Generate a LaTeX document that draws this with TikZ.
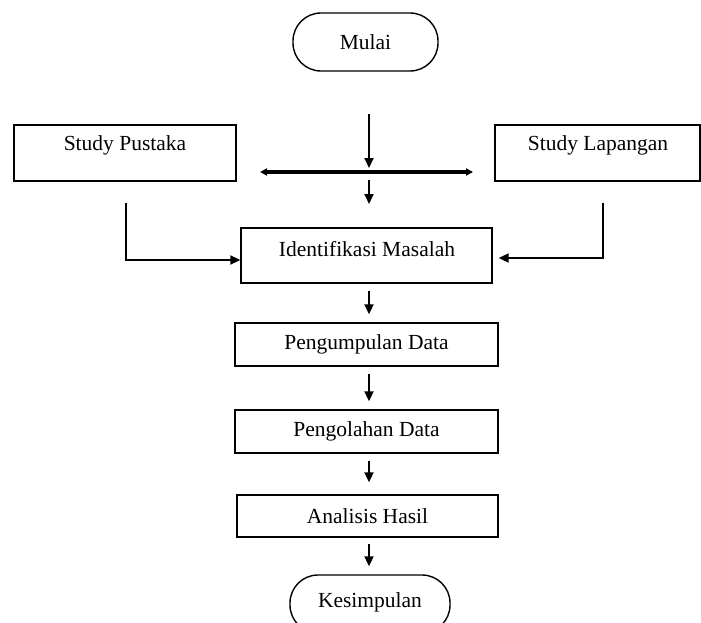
\documentclass[tikz,border=0pt]{standalone}
\usepackage{fontspec}
\setmainfont{Liberation Serif}
\usetikzlibrary{arrows.meta}
\begin{document}
\begin{tikzpicture}[x=1pt,y=-1pt,
  box/.style={draw, line width=1.4pt, rectangle, inner sep=0pt},
  term/.style={draw, line width=1.4pt, rectangle, rounded corners=28pt, inner sep=0pt},
  lbl/.style={font=\fontsize{21.5}{24}\selectfont, inner sep=0pt},
  arr/.style={line width=2pt, -{Triangle[length=10pt,width=9pt]}},
  darr/.style={line width=3.4pt, {Triangle[length=7pt,width=7pt]}-{Triangle[length=7pt,width=7pt]}}]
\clip (0,0) rectangle (701,623);
\fill[white] (0,0) rectangle (701,623);
% nodes
\node[term, minimum width=145pt, minimum height=58pt] (mulai) at (365.5,42) {};
\node[lbl] (tmulai) at (mulai.center) {Mulai};
\node[box, minimum width=222pt, minimum height=56pt] (sp) at (125,153) {};
\node[lbl] (tsp) at (125,145) {Study Pustaka};
\node[box, minimum width=205pt, minimum height=56pt] (sl) at (597.5,153) {};
\node[lbl] (tsl) at (598,145) {Study Lapangan};
\node[box, minimum width=251pt, minimum height=55pt] (id) at (366.5,255.5) {};
\node[lbl] (tid) at (367,249) {Identifikasi Masalah};
\node[box, minimum width=263pt, minimum height=43pt] (pg) at (366.5,344.5) {};
\node[lbl] (tpg) at (pg.center) {Pengumpulan Data};
\node[box, minimum width=263pt, minimum height=43pt] (po) at (366.5,431.5) {};
\node[lbl] (tpo) at (po.center) {Pengolahan Data};
\node[box, minimum width=261pt, minimum height=42pt] (ah) at (367.5,516) {};
\node[lbl] (tah) at (ah.center) {Analisis Hasil};
\node[term, minimum width=160pt, minimum height=58pt] (ks) at (370,604) {};
\node[lbl] (tks) at (370,602) {Kesimpulan};
% connectors
\coordinate (col) at (369,0);
\coordinate (a1s) at (369,114);
\coordinate (a1e) at (369,168);
\coordinate (hl) at (260,172);
\coordinate (hr) at (473,172);
\coordinate (a2s) at (369,180);
\coordinate (a2e) at (369,204);
\draw[arr] (a1s) -- (a1e);
\draw[darr] (hl) -- (hr);
\draw[arr] (a2s) -- (a2e);
\coordinate (ps) at (126,203);
\coordinate (ls) at (603,203);
\draw[arr] (ps) |- ([yshift=-4.5]id.west);
\draw[arr] (ls) |- ([xshift=6,yshift=-2.5]id.east);
\draw[arr] ([yshift=-7]id.south -| col) -- ([yshift=8]pg.north -| col);
\draw[arr] ([yshift=-7]pg.south -| col) -- ([yshift=8]po.north -| col);
\draw[arr] ([yshift=-7]po.south -| col) -- ([yshift=12]ah.north -| col);
\draw[arr] ([yshift=-6]ah.south -| col) -- ([yshift=8]ks.north -| col);
\end{tikzpicture}
\end{document}
